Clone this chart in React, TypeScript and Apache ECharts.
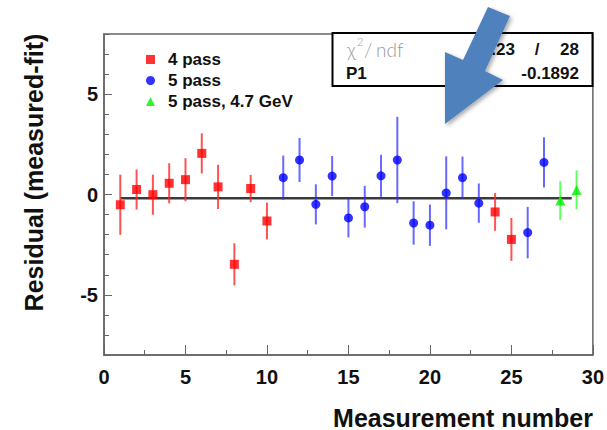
import React, { useEffect, useRef } from "react";
import * as echarts from "echarts";

// ---- data ----
const pass4X = [1, 2, 3, 4, 5, 6, 7, 8, 9, 10, 24, 25];
const pass4Y = [-0.51, 0.25, -0.01, 0.56, 0.74, 2.05, 0.38, -3.48, 0.3, -1.32, -0.87, -2.24];
const pass4Err = [1.5, 1.0, 1.0, 1.0, 1.07, 1.0, 1.1, 1.05, 0.68, 0.92, 0.94, 1.07];

const pass5X = [11, 12, 13, 14, 15, 16, 17, 18, 19, 20, 21, 22, 23, 26, 27];
const pass5Y = [0.84, 1.72, -0.49, 0.92, -1.17, -0.61, 0.93, 1.72, -1.42, -1.53, 0.08, 0.84, -0.43, -1.9, 1.6];
const pass5Err = [1.1, 1.1, 1.0, 1.0, 0.97, 1.04, 1.05, 2.15, 1.08, 1.03, 1.82, 1.05, 0.98, 1.28, 1.25];

const pass5gX = [28, 29];
const pass5gY = [-0.3, 0.23];
const pass5gErr = [0.97, 0.97];

const fitP1 = -0.1892;
const fitRange = [1, 28.7];

const seriesNames = ["4 pass", "5 pass", "5 pass, 4.7 GeV"];
const yLabelValues = [-5, 0, 5];
const statsRow1 = ["χ", "2", "/", "ndf", ".23", "/", "28"];
const statsRow2 = ["P1", "-0.1892"];

const FONT = "Liberation Sans, Arial, Helvetica, sans-serif";

function pts(xs: number[], ys: number[]) {
  return xs.map((x, i) => [x, ys[i]]);
}
function errPts(xs: number[], ys: number[], es: number[]) {
  return xs.map((x, i) => [x, ys[i], es[i]]);
}

function errSeries(name: string, data: number[][], color: string) {
  return {
    type: "custom",
    name,
    data,
    z: 2,
    encode: { x: 0, y: 1 },
    renderItem: (_p: any, api: any) => {
      const x = api.value(0);
      const y = api.value(1);
      const e = api.value(2);
      const a = api.coord([x, y - e]);
      const b = api.coord([x, y + e]);
      return {
        type: "line",
        shape: { x1: a[0], y1: a[1], x2: b[0], y2: b[1] },
        style: { stroke: color, lineWidth: 2 },
      };
    },
  };
}

export default function App() {
  const ref = useRef<HTMLDivElement>(null);
  useEffect(() => {
    if (!ref.current) return;
    const chart = echarts.init(ref.current, undefined, { renderer: "svg" });
    const gridLeft = 104;
    const gridTop = 34;
    const gridW = 489;
    const gridH = 323;
    const option: any = {
      animation: false,
      backgroundColor: "#fff",
      grid: {
        left: gridLeft,
        top: gridTop,
        width: gridW,
        height: gridH,
        show: true,
        borderColor: "#666",
        borderWidth: 1.5,
        backgroundColor: "transparent",
      },
      legend: {
        data: seriesNames,
        orient: "vertical",
        left: 141,
        top: 46,
        itemWidth: 9,
        itemHeight: 9,
        itemGap: 4,
        textStyle: {
          fontFamily: FONT,
          fontWeight: "bold",
          fontSize: 17,
          lineHeight: 17,
          color: "#111",
          padding: [0, 0, 0, 8],
        },
      },
      xAxis: {
        type: "value",
        min: 0,
        max: 30,
        interval: 5,
        name: "Measurement number",
        nameLocation: "end",
        nameGap: 0,
        nameTextStyle: {
          fontFamily: FONT,
          fontWeight: "bold",
          fontSize: 25,
          color: "#111",
          align: "right",
          verticalAlign: "top",
          padding: [50, 0, 0, 0],
        },
        axisLine: { show: true, onZero: false, lineStyle: { color: "#666", width: 1.5 } },
        axisTick: { show: true, inside: true, length: 10, lineStyle: { color: "#666" } },
        minorTick: { show: true, splitNumber: 2, length: 5, lineStyle: { color: "#666" } },
        axisLabel: {
          fontFamily: FONT,
          fontWeight: "bold",
          fontSize: 20,
          color: "#111",
          margin: 12,
        },
        splitLine: { show: false },
      },
      yAxis: [
        {
          type: "value",
          min: -8,
          max: 8,
          interval: 1,
          name: "Residual (measured-fit)",
          nameLocation: "middle",
          nameGap: 58,
          nameRotate: 90,
          nameTextStyle: {
            fontFamily: FONT,
            fontWeight: "bold",
            fontSize: 25,
            color: "#111",
            padding: [0, 0, 0, 44],
          },
          axisLine: { show: true, onZero: false, lineStyle: { color: "#666", width: 1.5 } },
          axisTick: { show: true, inside: true, length: 5, lineStyle: { color: "#666" } },
          axisLabel: {
            fontFamily: FONT,
            fontWeight: "bold",
            fontSize: 20,
            color: "#111",
            margin: 6,
            formatter: (v: number) => (yLabelValues.indexOf(v) >= 0 ? String(v) : ""),
          },
          splitLine: { show: false },
        },
        {
          type: "value",
          min: -8,
          max: 8,
          interval: 1,
          position: "left",
          axisLine: { show: false, onZero: false },
          axisTick: {
            show: true,
            inside: true,
            length: 8,
            customValues: yLabelValues,
            lineStyle: { color: "#666" },
          },
          axisLabel: { show: false },
          splitLine: { show: false },
        },
      ],
      series: [
        {
          type: "line",
          name: "fit",
          data: [
            [fitRange[0], fitP1],
            [fitRange[1], fitP1],
          ],
          symbol: "none",
          lineStyle: { color: "#3a3a3a", width: 2.5 },
          z: 1,
          silent: true,
        },
        errSeries("err4", errPts(pass4X, pass4Y, pass4Err), "rgba(255,40,40,0.8)"),
        errSeries("err5", errPts(pass5X, pass5Y, pass5Err), "rgba(40,40,255,0.7)"),
        errSeries("err5g", errPts(pass5gX, pass5gY, pass5gErr), "rgba(40,255,40,0.75)"),
        {
          type: "scatter",
          name: seriesNames[0],
          data: pts(pass4X, pass4Y),
          symbol: "rect",
          symbolSize: 9,
          itemStyle: { color: "#ff0000" },
          z: 3,
        },
        {
          type: "scatter",
          name: seriesNames[1],
          data: pts(pass5X, pass5Y),
          symbol: "circle",
          symbolSize: 9,
          itemStyle: { color: "#0000ff" },
          z: 3,
        },
        {
          type: "scatter",
          name: seriesNames[2],
          data: pts(pass5gX, pass5gY),
          symbol: "triangle",
          symbolSize: 10,
          itemStyle: { color: "#00ee00" },
          z: 3,
        },
      ],
      graphic: [
        {
          type: "rect",
          z: 50,
          shape: { x: 332.5, y: 33, width: 260, height: 53 },
          style: { fill: "#fff", stroke: "#000", lineWidth: 2 },
        },
        {
          type: "text",
          z: 51,
          x: 347,
          y: 49,
          style: { text: statsRow1[0], font: "300 19px Lato, 'Open Sans', sans-serif", fill: "#999", verticalAlign: "middle" },
        },
        {
          type: "text",
          z: 51,
          x: 357,
          y: 41,
          style: { text: statsRow1[1], font: "300 11px Lato, 'Open Sans', sans-serif", fill: "#999", verticalAlign: "middle" },
        },
        {
          type: "text",
          z: 51,
          x: 364,
          y: 49,
          style: { text: statsRow1[2], font: "300 19px Lato, 'Open Sans', sans-serif", fill: "#999", verticalAlign: "middle" },
        },
        {
          type: "text",
          z: 51,
          x: 376,
          y: 49,
          style: { text: statsRow1[3], font: "300 19px Lato, 'Open Sans', sans-serif", fill: "#999", verticalAlign: "middle" },
        },
        {
          type: "text",
          z: 51,
          x: 515,
          y: 49,
          style: { text: statsRow1[4], font: "bold 17px " + FONT, fill: "#111", align: "right", verticalAlign: "middle" },
        },
        {
          type: "text",
          z: 51,
          x: 537,
          y: 49,
          style: { text: statsRow1[5], font: "bold 17px " + FONT, fill: "#111", align: "center", verticalAlign: "middle" },
        },
        {
          type: "text",
          z: 51,
          x: 579,
          y: 49,
          style: { text: statsRow1[6], font: "bold 17px " + FONT, fill: "#111", align: "right", verticalAlign: "middle" },
        },
        {
          type: "text",
          z: 51,
          x: 346,
          y: 73,
          style: { text: statsRow2[0], font: "bold 17px " + FONT, fill: "#111", align: "left", verticalAlign: "middle" },
        },
        {
          type: "text",
          z: 51,
          x: 579,
          y: 73,
          style: { text: statsRow2[1], font: "bold 17px " + FONT, fill: "#111", align: "right", verticalAlign: "middle" },
        },
        {
          type: "polygon",
          z: 60,
          shape: {
            points: [
              [488, 7],
              [510, 16],
              [485, 71],
              [503, 80],
              [445, 124],
              [445, 52],
              [463, 60],
            ],
          },
          style: {
            fill: "#4f81bd",
            shadowBlur: 4,
            shadowColor: "rgba(0,0,0,0.35)",
            shadowOffsetX: 2,
            shadowOffsetY: 2,
          },
        },
      ],
    };
    chart.setOption(option);
    return () => chart.dispose();
  }, []);
  return (
    <div
      ref={ref}
      style={{ position: "fixed", left: 0, top: 0, width: 607, height: 430, background: "#fff" }}
    />
  );
}
